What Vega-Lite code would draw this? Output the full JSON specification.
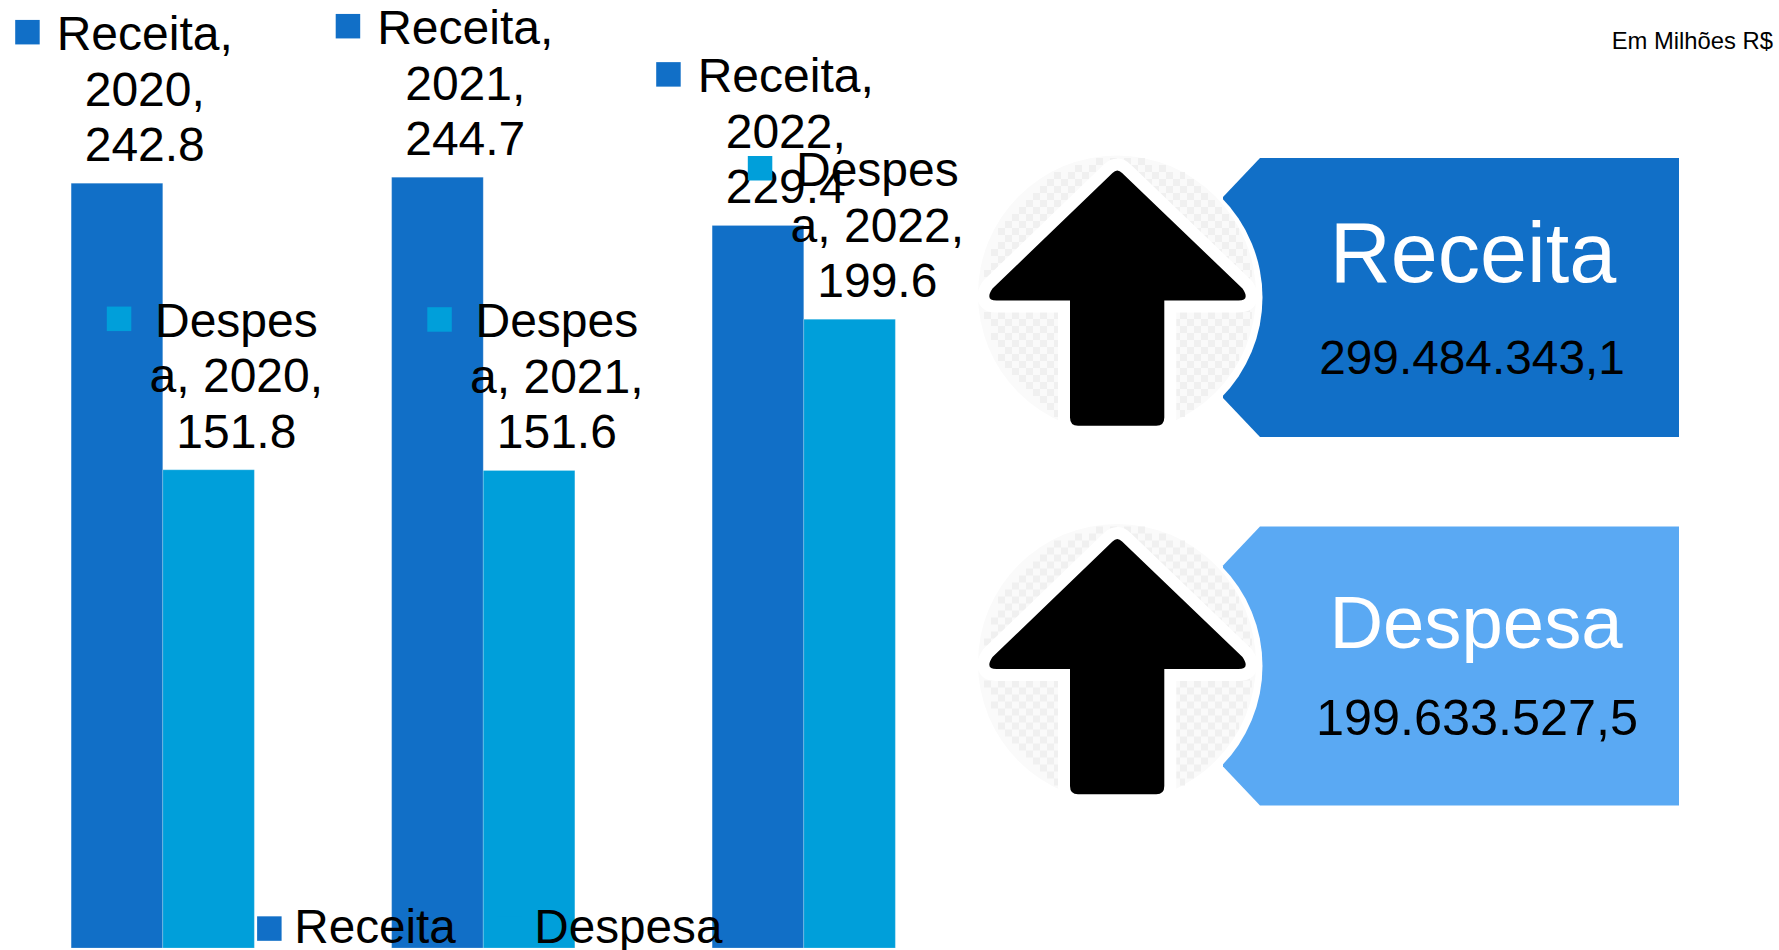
{"$schema":"https://vega.github.io/schema/vega-lite/v6.json","width":1779,"height":950,"padding":0,"autosize":{"type":"fit","contains":"padding"},"background":"#ffffff","view":{"stroke":null},"config":{"view":{"stroke":null}},
"datasets":{"barras":[
{"ano":"2020","serie":"Receita","valor":242.8,"rotulo":"Receita,\n2020,\n242.8"},
{"ano":"2020","serie":"Despesa","valor":151.8,"rotulo":"Despes\na, 2020,\n151.8"},
{"ano":"2021","serie":"Receita","valor":244.7,"rotulo":"Receita,\n2021,\n244.7"},
{"ano":"2021","serie":"Despesa","valor":151.6,"rotulo":"Despes\na, 2021,\n151.6"},
{"ano":"2022","serie":"Receita","valor":229.4,"rotulo":"Receita,\n2022,\n229.4"},
{"ano":"2022","serie":"Despesa","valor":199.6,"rotulo":"Despes\na, 2022,\n199.6"}],
"paineis":[{"painel":"Receita","total":"299.484.343,1","parte":"rotulo","icone":"icone"},{"painel":"Despesa","total":"199.633.527,5","parte":"rotulo","icone":"icone"}],
"nota":[{"nota":"Em Milhões R$"}]},
"resolve":{"scale":{"x":"independent","y":"independent","color":"independent"}},
"layer":[
{"data":{"name":"paineis"},
"encoding":{"y":{"field":"painel","type":"nominal","axis":null,"scale":{"type":"point","domain":["Receita","Despesa"],"range":[297.5,666],"padding":0}}},
"layer":[
{"mark":{"type":"point","filled":true,"opacity":1,"size":4,"shape":"M-213,-139.5L206,-139.5L206,139.5L-213,139.5L-250,100.5L-250,-100.5Z"},
"encoding":{"x":{"field":"parte","type":"nominal","axis":null,"scale":{"type":"point","domain":["icone","rotulo"],"range":[1120.5,1473],"padding":0}},
"color":{"field":"painel","type":"nominal","legend":null,"scale":{"domain":["Receita","Despesa"],"range":["#116fc7","#5aa9f3"]}}}},
{"mark":{"type":"point","filled":true,"opacity":1,"fill":"#ffffff","size":80656},
"encoding":{"x":{"field":"icone","type":"nominal","axis":null,"scale":{"type":"point","domain":["icone","rotulo"],"range":[1120.5,1473],"padding":0}}}},
{"mark":{"type":"point","filled":true,"opacity":1,"fill":"#fafafa","size":77284,"xOffset":-3.5,"yOffset":-3},
"encoding":{"x":{"field":"icone","type":"nominal","axis":null,"scale":{"type":"point","domain":["icone","rotulo"],"range":[1120.5,1473],"padding":0}}}},
{"mark":{"type":"point","filled":false,"opacity":1,"fill":null,"stroke":"#f0f0f0","strokeWidth":7,"strokeDash":[7,7],"size":4,"xOffset":-3.5,"yOffset":-3,"shape":"M-21,-133L33,-133M-42,-126L54,-126M-63,-119L68,-119M-70,-112L79,-112M-77,-105L88,-105M-84,-98L96,-98M-91,-91L102,-91M-98,-84L108,-84M-105,-77L113,-77M-112,-70L118,-70M-119,-63L122,-63M-112,-56L125,-56M-119,-49L128,-49M-126,-42L130,-42M-119,-35L132,-35M-126,-28L134,-28M-133,-21L135,-21M-126,-14L136,-14M-133,-7L137,-7M-126,0L137,0M-133,7L137,7M-126,14L136,14M-133,21L135,21M-126,28L134,28M-119,35L132,35M-126,42L130,42M-119,49L128,49M-112,56L125,56M-119,63L122,63M-112,70L118,70M-105,77L113,77M-98,84L108,84M-91,91L102,91M-84,98L96,98M-77,105L88,105M-70,112L79,112M-63,119L68,119M-42,126L54,126M-21,133L33,133"},
"encoding":{"x":{"field":"icone","type":"nominal","axis":null,"scale":{"type":"point","domain":["icone","rotulo"],"range":[1120.5,1473],"padding":0}}}},
{"mark":{"type":"point","filled":true,"opacity":1,"fill":"#ffffff","stroke":"#ffffff","strokeWidth":24,"strokeJoin":"round","size":4,"shape":"M-8,-124.5Q-3.2,-129.5 1.6,-124.5L122,-9Q130,3 118,3L43.8,3L43.8,120Q43.8,128.3 35.8,128.3L-42.5,128.3Q-50.5,128.3 -50.5,120L-50.5,3L-124,3Q-136,3 -128,-9Z"},
"encoding":{"x":{"field":"icone","type":"nominal","axis":null,"scale":{"type":"point","domain":["icone","rotulo"],"range":[1120.5,1473],"padding":0}}}},
{"mark":{"type":"point","filled":true,"opacity":1,"fill":"#000000","size":4,"shape":"M-8,-124.5Q-3.2,-129.5 1.6,-124.5L122,-9Q130,3 118,3L43.8,3L43.8,120Q43.8,128.3 35.8,128.3L-42.5,128.3Q-50.5,128.3 -50.5,120L-50.5,3L-124,3Q-136,3 -128,-9Z"},
"encoding":{"x":{"field":"icone","type":"nominal","axis":null,"scale":{"type":"point","domain":["icone","rotulo"],"range":[1120.5,1473],"padding":0}}}},
{"transform":[{"filter":"datum.painel==='Receita'"}],"mark":{"type":"text","font":"Liberation Sans","fontSize":84.5,"fill":"#ffffff","align":"center","baseline":"alphabetic","dy":-15.5},
"encoding":{"x":{"field":"parte","type":"nominal","axis":null,"scale":{"type":"point","domain":["icone","rotulo"],"range":[1120.5,1473],"padding":0}},"text":{"field":"painel"}}},
{"transform":[{"filter":"datum.painel==='Receita'"}],"mark":{"type":"text","font":"Liberation Sans","fontSize":47.8,"fill":"#000000","align":"center","baseline":"alphabetic","dx":-1,"dy":76.5},
"encoding":{"x":{"field":"parte","type":"nominal","axis":null,"scale":{"type":"point","domain":["icone","rotulo"],"range":[1120.5,1473],"padding":0}},"text":{"field":"total"}}},
{"transform":[{"filter":"datum.painel==='Despesa'"}],"mark":{"type":"text","font":"Liberation Sans","fontSize":74.3,"fill":"#ffffff","align":"center","baseline":"alphabetic","dx":3,"dy":-18},
"encoding":{"x":{"field":"parte","type":"nominal","axis":null,"scale":{"type":"point","domain":["icone","rotulo"],"range":[1120.5,1473],"padding":0}},"text":{"field":"painel"}}},
{"transform":[{"filter":"datum.painel==='Despesa'"}],"mark":{"type":"text","font":"Liberation Sans","fontSize":50.4,"fill":"#000000","align":"center","baseline":"alphabetic","dx":4,"dy":69},
"encoding":{"x":{"field":"parte","type":"nominal","axis":null,"scale":{"type":"point","domain":["icone","rotulo"],"range":[1120.5,1473],"padding":0}},"text":{"field":"total"}}}
]},
{"data":{"name":"barras"},
"encoding":{
"x":{"field":"ano","type":"nominal","axis":null,"scale":{"type":"band","domain":["2020","2021","2022"],"range":[2.5,964],"paddingInner":0.4284,"paddingOuter":0.2142}},
"xOffset":{"field":"serie","type":"nominal","scale":{"domain":["Receita","Despesa"],"paddingInner":0,"paddingOuter":0}},
"y":{"field":"valor","type":"quantitative","axis":null,"scale":{"domain":[-0.635,300.95],"nice":false,"zero":false}}},
"layer":[
{"mark":{"type":"bar","stroke":"#ffffff","strokeOpacity":0.2,"strokeWidth":1},
"encoding":{"color":{"field":"serie","type":"nominal","scale":{"domain":["Receita","Despesa"],"range":["#116fc7","#009fda"]},
"legend":{"orient":"none","legendX":245.5,"legendY":904.5,"direction":"horizontal","title":null,"symbolType":"square","symbolSize":600,"symbolStrokeWidth":0,"labelFont":"Liberation Sans","labelFontSize":47.7,"labelLimit":400,"labelColor":"#000000","labelOffset":1,"columnPadding":29,"symbolOpacity":1}}}},
{"mark":{"type":"text","font":"Liberation Sans","fontSize":48,"fill":"#000000","align":"center","baseline":"alphabetic","lineBreak":"\n","lineHeight":55.5,"dx":27.8,"dy":-133},
"encoding":{"text":{"field":"rotulo"}}},
{"mark":{"type":"point","filled":true,"opacity":1,"size":4,"shape":"M-101.75,-163.25L-77.25,-163.25L-77.25,-138.75L-101.75,-138.75Z"},
"encoding":{"color":{"field":"serie","type":"nominal"}}}
]},
{"data":{"name":"nota"},
"mark":{"type":"text","font":"Liberation Sans","fontSize":23.8,"fill":"#000000","align":"right","baseline":"alphabetic"},
"encoding":{"text":{"field":"nota"},
"x":{"datum":1,"type":"quantitative","axis":null,"scale":{"domain":[0,1],"range":[0,1773]}},
"y":{"datum":1,"type":"quantitative","axis":null,"scale":{"domain":[0,1],"range":[0,49]}}}}
]}
